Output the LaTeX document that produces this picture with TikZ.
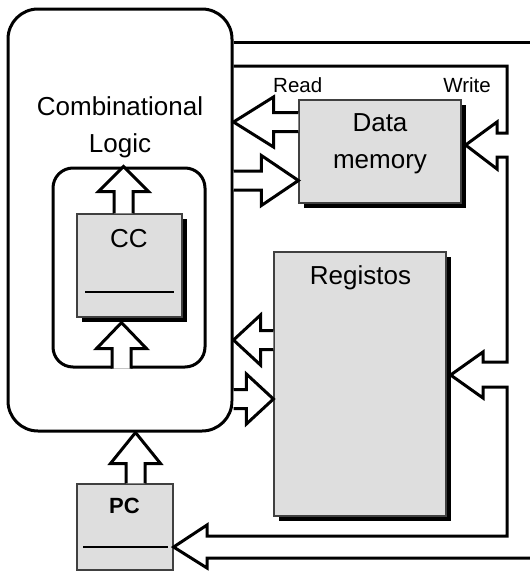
\documentclass[tikz,border=0pt]{standalone}
\usepackage{fontspec}
\setmainfont{Liberation Sans}
\usetikzlibrary{calc,shadows}

%% hollow block arrow from #2 to #3, #1 = head length
\newcommand{\fatarrow}[3][28pt]{%
  \coordinate (fah) at ($(#3)!#1!(#2)$);
  \draw[fatline] ($(#2)!9.5pt!90:(#3)$) -- ($(fah)!9.5pt!-90:(#2)$) -- ($(fah)!25pt!-90:(#2)$) -- (#3)
    -- ($(fah)!25pt!90:(#2)$) -- ($(fah)!9.5pt!90:(#2)$) -- ($(#2)!9.5pt!-90:(#3)$);
}

\begin{document}
\begin{tikzpicture}[x=1pt, y=-1pt,
    rbox/.style={draw, line width=3pt, rounded corners=#1, inner sep=0pt},
    gbox/.style={draw=black!75, line width=1.2pt, fill=black!13, inner sep=0pt},
    shadowed/.style={drop shadow={shadow xshift=5pt, shadow yshift=-5pt, opacity=1, fill=black}},
    fatline/.style={draw, fill=white, line width=3pt, line join=miter},
    busline/.style={line width=3pt, line join=miter},
    sepline/.style={line width=1.5pt},
    bigtxt/.style={font={\fontsize{26pt}{37pt}\selectfont}, align=center, inner sep=0pt},
    smalltxt/.style={font={\fontsize{20.5pt}{24pt}\selectfont}, inner sep=0pt}]
    \useasboundingbox (0,0) rectangle (530,571);

    %% Combinational logic
    \node[rbox=30pt, minimum width=224pt, minimum height=422pt] (cl) at (120,220) {};
    \node[bigtxt, anchor=base] (cltxt) at (120,152) {Combinational\\Logic};
    \node[rbox=20pt, minimum width=152pt, minimum height=199pt] (ic) at (129,267.5) {};

    %% CC
    \node[gbox, shadowed, minimum width=105pt, minimum height=103pt] (cc) at (129.5,265.5) {};
    \node[bigtxt, anchor=base] (cctxt) at (129,247) {CC};
    \draw[sepline] ([xshift=9pt, yshift=-26.5pt]cc.west) -- ([xshift=-9pt, yshift=-26.5pt]cc.east);

    %% PC
    \node[gbox, minimum width=96pt, minimum height=86pt] (pc) at (125,527) {};
    \node[font={\fontsize{22pt}{26pt}\selectfont\bfseries}, anchor=base, inner sep=0pt] (pctxt) at (124.5,513) {PC};
    \draw[sepline] ([xshift=7pt, yshift=-20pt]pc.west) -- ([xshift=-6pt, yshift=-20pt]pc.east);

    %% Data memory
    \node[gbox, shadowed, minimum width=162pt, minimum height=103pt] (dm) at (380,151.5) {};
    \node[bigtxt, anchor=base] (dmtxt) at (380,168) {Data\\memory};
    \node[smalltxt, anchor=base west] (rdtxt) at (273,92) {Read};
    \node[smalltxt, anchor=base east] (wrtxt) at (491,92) {Write};

    %% Registos
    \node[gbox, shadowed, minimum width=172pt, minimum height=264pt] (rg) at (360,384) {};
    \node[bigtxt, anchor=base] (rgtxt) at (360.5,284) {Registos};

    %% block arrows
    \coordinate (a1) at ([xshift=-6pt]cc.north);
    \coordinate (a1e) at (a1 |- ic.north);
    \fatarrow[25pt]{a1}{a1e}
    \coordinate (a2e) at ([xshift=-8pt, yshift=-5pt]cc.south);
    \coordinate (a2) at (a2e |- ic.south);
    \fatarrow[26pt]{a2}{a2e}
    \coordinate (a3) at ([xshift=10.5pt]pc.north);
    \coordinate (a3e) at (a3 |- cl.south);
    \fatarrow[31pt]{a3}{a3e}
    \coordinate (a4) at ([yshift=29.5pt]dm.west);
    \coordinate (a4e) at (a4 -| cl.east);
    \fatarrow[40pt]{a4}{a4e}
    \coordinate (a5e) at ([yshift=-29pt]dm.west);
    \coordinate (a5) at (a5e -| cl.east);
    \fatarrow[37pt]{a5}{a5e}
    \coordinate (a6) at ([yshift=44pt]rg.west);
    \coordinate (a6e) at (a6 -| cl.east);
    \fatarrow[27pt]{a6}{a6e}
    \coordinate (a7e) at ([yshift=-15pt]rg.west);
    \coordinate (a7) at (a7e -| cl.east);
    \fatarrow[27pt]{a7}{a7e}

    %% write-back bus
    \coordinate (bt) at (530,42);
    \coordinate (bi) at (507,66);
    \draw[busline] (cl.east |- bt) -- (bt);
    \draw[busline] (cl.east |- bi) -- (bi) -- (507,133) -- (497,133) -- (497,122)
        -- ([xshift=4pt, yshift=6.5pt]dm.east) -- (497,169) -- (497,157) -- (507,157)
        -- (507,362) -- (483,362) -- (483,352) -- ([xshift=4pt, yshift=9pt]rg.east)
        -- (483,398) -- (483,387) -- (507,387) -- (507,536) -- (207,536) -- (207,525)
        -- ([yshift=-20pt]pc.east) -- (207,568) -- (207,558) -- (530,558);
\end{tikzpicture}
\end{document}
